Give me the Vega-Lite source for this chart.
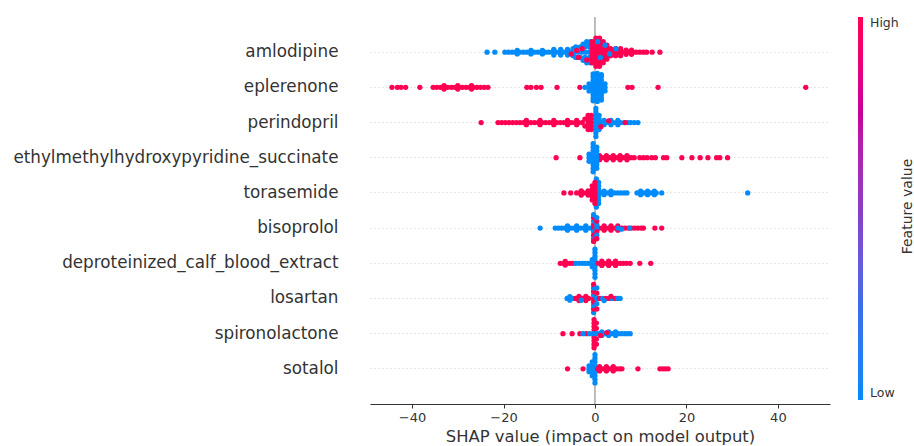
{
"$schema": "https://vega.github.io/schema/vega-lite/v6.json",
"width": 460,
"height": 387,
"autosize": {"type": "none"},
"padding": {"left": 370, "top": 17, "right": 84, "bottom": 42},
"background": "white",
"config": {"view": {"stroke": null}, "font": "DejaVu Sans"},
"datasets": {
"features": [{"k":1,"feature":"amlodipine"},{"k":2,"feature":"eplerenone"},{"k":3,"feature":"perindopril"},{"k":4,"feature":"ethylmethylhydroxypyridine_succinate"},{"k":5,"feature":"torasemide"},{"k":6,"feature":"bisoprolol"},{"k":7,"feature":"deproteinized_calf_blood_extract"},{"k":8,"feature":"losartan"},{"k":9,"feature":"spironolactone"},{"k":10,"feature":"sotalol"}],
"zero": [{"v":0}],
"shap": [
{"k":1,"v":-23.6,"c":0,"o":0},{"k":1,"v":-21.9,"c":0,"o":0},{"k":1,"v":-19.7,"c":0,"o":0},{"k":1,"v":-18.9,"c":0,"o":0},{"k":1,"v":-18.1,"c":0,"o":0},{"k":1,"v":-17.3,"c":0,"o":0},{"k":1,"v":-16.5,"c":0,"o":0},{"k":1,"v":-15.7,"c":0,"o":0},{"k":1,"v":-14.9,"c":0,"o":0},{"k":1,"v":-14.1,"c":0,"o":0},{"k":1,"v":-13.3,"c":0,"o":0},{"k":1,"v":-12.5,"c":0,"o":0},{"k":1,"v":-11.7,"c":0,"o":0},{"k":1,"v":-10.9,"c":0,"o":0},{"k":1,"v":-10.1,"c":0,"o":0},{"k":1,"v":-9.3,"c":0,"o":0},{"k":1,"v":-8.5,"c":0,"o":0},{"k":1,"v":-7.7,"c":0,"o":0},{"k":1,"v":-6.9,"c":0,"o":0},{"k":1,"v":-6.1,"c":0,"o":0},{"k":1,"v":-5.3,"c":0,"o":0},{"k":1,"v":-4.5,"c":0,"o":0},{"k":1,"v":-3.7,"c":0,"o":0},{"k":1,"v":-2.9,"c":0,"o":0},{"k":1,"v":-2.1,"c":0,"o":0},{"k":1,"v":-1.3,"c":0,"o":0},{"k":1,"v":-0.5,"c":0,"o":0},
{"k":1,"v":-17,"c":0,"o":0.05},{"k":1,"v":-17,"c":0,"o":-0.05},{"k":1,"v":-14,"c":0,"o":0.05},{"k":1,"v":-14,"c":0,"o":-0.05},{"k":1,"v":-11.5,"c":0,"o":0.05},{"k":1,"v":-11.5,"c":0,"o":-0.05},
{"k":1,"v":-9,"c":0,"o":0.08},{"k":1,"v":-9,"c":0,"o":-0.08},{"k":1,"v":-7.5,"c":0,"o":0.08},{"k":1,"v":-7.5,"c":0,"o":-0.08},{"k":1,"v":-6,"c":0,"o":0.08},{"k":1,"v":-6,"c":0,"o":-0.08},{"k":1,"v":-4.8,"c":0,"o":0.1},{"k":1,"v":-4.8,"c":0,"o":-0.1},
{"k":1,"v":-4.2,"c":0,"o":0.15},{"k":1,"v":-4.2,"c":0,"o":-0.15},{"k":1,"v":-3.2,"c":0,"o":0.15},{"k":1,"v":-3.2,"c":0,"o":-0.15},{"k":1,"v":-2.2,"c":0,"o":0.15},{"k":1,"v":-2.2,"c":0,"o":-0.15},{"k":1,"v":-1.2,"c":0,"o":0.15},{"k":1,"v":-1.2,"c":0,"o":-0.15},
{"k":1,"v":-2.6,"c":0,"o":0.23},{"k":1,"v":-2.6,"c":0,"o":-0.23},{"k":1,"v":-1.6,"c":0,"o":0.23},{"k":1,"v":-1.6,"c":0,"o":-0.23},{"k":1,"v":-0.8,"c":0,"o":0.23},{"k":1,"v":-0.8,"c":0,"o":-0.23},
{"k":1,"v":-1.8,"c":0,"o":0.3},{"k":1,"v":-1.8,"c":0,"o":-0.3},{"k":1,"v":-1,"c":0,"o":0.3},{"k":1,"v":-1,"c":0,"o":-0.3},
{"k":1,"v":-5.2,"c":1,"o":0.05},{"k":1,"v":-2.8,"c":1,"o":-0.1},{"k":1,"v":-3.6,"c":1,"o":0.15},{"k":1,"v":-1.8,"c":1,"o":0.22},{"k":1,"v":-4,"c":1,"o":-0.05},
{"k":1,"v":-0.6,"c":1,"o":0},{"k":1,"v":-0.6,"c":1,"o":0.1},{"k":1,"v":-0.6,"c":1,"o":-0.1},{"k":1,"v":-0.6,"c":1,"o":0.2},{"k":1,"v":-0.6,"c":1,"o":-0.2},{"k":1,"v":-0.6,"c":1,"o":0.3},{"k":1,"v":-0.6,"c":1,"o":-0.3},
{"k":1,"v":0.2,"c":1,"o":0},{"k":1,"v":0.2,"c":1,"o":0.1},{"k":1,"v":0.2,"c":1,"o":-0.1},{"k":1,"v":0.2,"c":1,"o":0.2},{"k":1,"v":0.2,"c":1,"o":-0.2},{"k":1,"v":0.2,"c":1,"o":0.3},{"k":1,"v":0.2,"c":1,"o":-0.3},{"k":1,"v":0.2,"c":1,"o":0.4},{"k":1,"v":0.2,"c":1,"o":-0.4},
{"k":1,"v":1,"c":1,"o":0},{"k":1,"v":1,"c":1,"o":0.1},{"k":1,"v":1,"c":1,"o":-0.1},{"k":1,"v":1,"c":1,"o":0.2},{"k":1,"v":1,"c":1,"o":-0.2},{"k":1,"v":1,"c":1,"o":0.3},{"k":1,"v":1,"c":1,"o":-0.3},{"k":1,"v":1,"c":1,"o":0.4},{"k":1,"v":1,"c":1,"o":-0.4},
{"k":1,"v":1.8,"c":1,"o":0},{"k":1,"v":1.8,"c":1,"o":0.1},{"k":1,"v":1.8,"c":1,"o":-0.1},{"k":1,"v":1.8,"c":1,"o":0.2},{"k":1,"v":1.8,"c":1,"o":-0.2},{"k":1,"v":1.8,"c":1,"o":0.3},{"k":1,"v":1.8,"c":1,"o":-0.3},
{"k":1,"v":2.6,"c":1,"o":0},{"k":1,"v":2.6,"c":1,"o":0.1},{"k":1,"v":2.6,"c":1,"o":-0.1},{"k":1,"v":2.6,"c":1,"o":0.2},{"k":1,"v":2.6,"c":1,"o":-0.2},
{"k":1,"v":3.4,"c":1,"o":0},{"k":1,"v":4.2,"c":1,"o":0},{"k":1,"v":5,"c":1,"o":0},{"k":1,"v":5.8,"c":1,"o":0},{"k":1,"v":6.6,"c":1,"o":0},{"k":1,"v":7.4,"c":1,"o":0},{"k":1,"v":8.2,"c":1,"o":0},{"k":1,"v":9,"c":1,"o":0},{"k":1,"v":9.8,"c":1,"o":0},{"k":1,"v":10.6,"c":1,"o":0},{"k":1,"v":11.3,"c":1,"o":0},{"k":1,"v":12.5,"c":1,"o":0},{"k":1,"v":14.2,"c":1,"o":0},
{"k":1,"v":3.4,"c":1,"o":0.1},{"k":1,"v":3.4,"c":1,"o":-0.1},{"k":1,"v":4.5,"c":1,"o":0.1},{"k":1,"v":4.5,"c":1,"o":-0.1},{"k":1,"v":5.6,"c":1,"o":0.1},{"k":1,"v":5.6,"c":1,"o":-0.1},{"k":1,"v":6.8,"c":1,"o":0.06},{"k":1,"v":6.8,"c":1,"o":-0.06},{"k":1,"v":8,"c":1,"o":0.06},{"k":1,"v":8,"c":1,"o":-0.06},
{"k":1,"v":1.2,"c":0,"o":0.15},{"k":1,"v":2.2,"c":0,"o":-0.2},{"k":1,"v":3.2,"c":0,"o":0.05},{"k":1,"v":4.6,"c":0,"o":-0.1},{"k":1,"v":0.6,"c":0,"o":-0.3},
{"k":2,"v":-44.4,"c":1,"o":0},{"k":2,"v":-43.2,"c":1,"o":0},{"k":2,"v":-42.4,"c":1,"o":0},{"k":2,"v":-41.4,"c":1,"o":0},{"k":2,"v":-38.3,"c":1,"o":0},{"k":2,"v":-35.4,"c":1,"o":0},{"k":2,"v":-34.6,"c":1,"o":0},{"k":2,"v":-33.8,"c":1,"o":0},{"k":2,"v":-33,"c":1,"o":0},{"k":2,"v":-32.2,"c":1,"o":0},{"k":2,"v":-31.4,"c":1,"o":0},{"k":2,"v":-30.6,"c":1,"o":0},{"k":2,"v":-29.8,"c":1,"o":0},{"k":2,"v":-29,"c":1,"o":0},{"k":2,"v":-28.2,"c":1,"o":0},{"k":2,"v":-27.4,"c":1,"o":0},{"k":2,"v":-26.6,"c":1,"o":0},{"k":2,"v":-25.8,"c":1,"o":0},{"k":2,"v":-25,"c":1,"o":0},{"k":2,"v":-24.2,"c":1,"o":0},{"k":2,"v":-23.4,"c":1,"o":0},{"k":2,"v":-14.9,"c":1,"o":0},{"k":2,"v":-14,"c":1,"o":0},{"k":2,"v":-12.8,"c":1,"o":0},{"k":2,"v":-11.8,"c":1,"o":0},{"k":2,"v":-8.3,"c":1,"o":0},{"k":2,"v":-3.3,"c":1,"o":0},{"k":2,"v":7.2,"c":1,"o":0},{"k":2,"v":8.1,"c":1,"o":0},{"k":2,"v":13.8,"c":1,"o":0},{"k":2,"v":46.1,"c":1,"o":0},
{"k":2,"v":-33,"c":1,"o":0.05},{"k":2,"v":-33,"c":1,"o":-0.05},{"k":2,"v":-30,"c":1,"o":0.05},{"k":2,"v":-30,"c":1,"o":-0.05},{"k":2,"v":-27,"c":1,"o":0.05},{"k":2,"v":-27,"c":1,"o":-0.05},
{"k":2,"v":-2.2,"c":0,"o":0},{"k":2,"v":-1.3,"c":0,"o":0},{"k":2,"v":-1.3,"c":0,"o":0.1},{"k":2,"v":-1.3,"c":0,"o":-0.1},
{"k":2,"v":-0.4,"c":0,"o":0},{"k":2,"v":-0.4,"c":0,"o":0.1},{"k":2,"v":-0.4,"c":0,"o":-0.1},{"k":2,"v":-0.4,"c":0,"o":0.2},{"k":2,"v":-0.4,"c":0,"o":-0.2},{"k":2,"v":-0.4,"c":0,"o":0.3},{"k":2,"v":-0.4,"c":0,"o":-0.3},{"k":2,"v":-0.4,"c":0,"o":0.38},{"k":2,"v":-0.4,"c":0,"o":-0.38},
{"k":2,"v":0.5,"c":0,"o":0},{"k":2,"v":0.5,"c":0,"o":0.1},{"k":2,"v":0.5,"c":0,"o":-0.1},{"k":2,"v":0.5,"c":0,"o":0.2},{"k":2,"v":0.5,"c":0,"o":-0.2},{"k":2,"v":0.5,"c":0,"o":0.3},{"k":2,"v":0.5,"c":0,"o":-0.3},{"k":2,"v":0.5,"c":0,"o":0.4},{"k":2,"v":0.5,"c":0,"o":-0.4},
{"k":2,"v":1.4,"c":0,"o":0},{"k":2,"v":1.4,"c":0,"o":0.1},{"k":2,"v":1.4,"c":0,"o":-0.1},{"k":2,"v":1.4,"c":0,"o":0.2},{"k":2,"v":1.4,"c":0,"o":-0.2},{"k":2,"v":1.4,"c":0,"o":0.3},{"k":2,"v":1.4,"c":0,"o":-0.3},{"k":2,"v":1.4,"c":0,"o":0.36},{"k":2,"v":1.4,"c":0,"o":-0.36},
{"k":2,"v":2.2,"c":0,"o":0},{"k":2,"v":2.2,"c":0,"o":0.1},{"k":2,"v":2.2,"c":0,"o":-0.1},
{"k":3,"v":-24.9,"c":1,"o":0},{"k":3,"v":-21.2,"c":1,"o":0},{"k":3,"v":-20.4,"c":1,"o":0},{"k":3,"v":-19.6,"c":1,"o":0},{"k":3,"v":-18.8,"c":1,"o":0},{"k":3,"v":-18,"c":1,"o":0},{"k":3,"v":-17.2,"c":1,"o":0},{"k":3,"v":-16.4,"c":1,"o":0},{"k":3,"v":-15.6,"c":1,"o":0},{"k":3,"v":-14.8,"c":1,"o":0},{"k":3,"v":-14,"c":1,"o":0},{"k":3,"v":-13.2,"c":1,"o":0},{"k":3,"v":-12.4,"c":1,"o":0},{"k":3,"v":-11.6,"c":1,"o":0},{"k":3,"v":-10.8,"c":1,"o":0},{"k":3,"v":-10,"c":1,"o":0},{"k":3,"v":-9.2,"c":1,"o":0},{"k":3,"v":-8.4,"c":1,"o":0},{"k":3,"v":-7.6,"c":1,"o":0},{"k":3,"v":-6.8,"c":1,"o":0},{"k":3,"v":-6,"c":1,"o":0},{"k":3,"v":-5.2,"c":1,"o":0},{"k":3,"v":-4.4,"c":1,"o":0},{"k":3,"v":-3.6,"c":1,"o":0},{"k":3,"v":-2.8,"c":1,"o":0},
{"k":3,"v":-15,"c":1,"o":0.06},{"k":3,"v":-15,"c":1,"o":-0.06},{"k":3,"v":-12,"c":1,"o":0.06},{"k":3,"v":-12,"c":1,"o":-0.06},{"k":3,"v":-9,"c":1,"o":0.06},{"k":3,"v":-9,"c":1,"o":-0.06},{"k":3,"v":-6,"c":1,"o":0.06},{"k":3,"v":-6,"c":1,"o":-0.06},{"k":3,"v":-4,"c":1,"o":0.06},{"k":3,"v":-4,"c":1,"o":-0.06},
{"k":3,"v":0.2,"c":0,"o":0},{"k":3,"v":0.2,"c":0,"o":0.1},{"k":3,"v":0.2,"c":0,"o":-0.1},{"k":3,"v":0.2,"c":0,"o":0.2},{"k":3,"v":0.2,"c":0,"o":-0.2},{"k":3,"v":0.2,"c":0,"o":0.3},{"k":3,"v":0.2,"c":0,"o":-0.3},{"k":3,"v":0.2,"c":0,"o":0.4},{"k":3,"v":0.2,"c":0,"o":-0.4},
{"k":3,"v":0.9,"c":0,"o":0},{"k":3,"v":0.9,"c":0,"o":0.1},{"k":3,"v":0.9,"c":0,"o":-0.1},{"k":3,"v":0.9,"c":0,"o":0.2},{"k":3,"v":0.9,"c":0,"o":-0.2},
{"k":3,"v":1.6,"c":0,"o":0},{"k":3,"v":2.4,"c":0,"o":0},{"k":3,"v":3.2,"c":0,"o":0},{"k":3,"v":4,"c":0,"o":0},{"k":3,"v":4.8,"c":0,"o":0},{"k":3,"v":5.6,"c":0,"o":0},{"k":3,"v":6.4,"c":0,"o":0},{"k":3,"v":7.2,"c":0,"o":0},{"k":3,"v":7.8,"c":0,"o":0},{"k":3,"v":8.6,"c":0,"o":0},{"k":3,"v":9.4,"c":0,"o":0},
{"k":3,"v":2,"c":0,"o":0.06},{"k":3,"v":2,"c":0,"o":-0.06},{"k":3,"v":3.5,"c":0,"o":0.06},{"k":3,"v":3.5,"c":0,"o":-0.06},{"k":3,"v":5,"c":0,"o":0.06},{"k":3,"v":5,"c":0,"o":-0.06},
{"k":3,"v":-2.2,"c":1,"o":0.1},{"k":3,"v":-2.2,"c":1,"o":-0.1},{"k":3,"v":-1.5,"c":1,"o":0},{"k":3,"v":-1.5,"c":1,"o":0.1},{"k":3,"v":-1.5,"c":1,"o":-0.1},{"k":3,"v":-1.5,"c":1,"o":0.2},{"k":3,"v":-1.5,"c":1,"o":-0.2},{"k":3,"v":-0.8,"c":1,"o":0},{"k":3,"v":-0.8,"c":1,"o":0.1},{"k":3,"v":-0.8,"c":1,"o":-0.1},{"k":3,"v":-0.8,"c":1,"o":0.2},{"k":3,"v":-0.8,"c":1,"o":-0.2},
{"k":3,"v":6.6,"c":1,"o":0},{"k":3,"v":1.3,"c":1,"o":0.12},{"k":3,"v":3,"c":1,"o":-0.05},
{"k":4,"v":-8.5,"c":1,"o":0},{"k":4,"v":-3.3,"c":1,"o":0},{"k":4,"v":0.8,"c":1,"o":0},{"k":4,"v":1.4,"c":1,"o":0},{"k":4,"v":2,"c":1,"o":0},{"k":4,"v":2.6,"c":1,"o":0},{"k":4,"v":3.2,"c":1,"o":0},{"k":4,"v":3.8,"c":1,"o":0},{"k":4,"v":4.4,"c":1,"o":0},{"k":4,"v":5,"c":1,"o":0},{"k":4,"v":5.6,"c":1,"o":0},{"k":4,"v":6.2,"c":1,"o":0},{"k":4,"v":6.8,"c":1,"o":0},{"k":4,"v":7.4,"c":1,"o":0},{"k":4,"v":8,"c":1,"o":0},{"k":4,"v":8.6,"c":1,"o":0},{"k":4,"v":9.8,"c":1,"o":0},{"k":4,"v":10.6,"c":1,"o":0},{"k":4,"v":11.4,"c":1,"o":0},{"k":4,"v":12.4,"c":1,"o":0},{"k":4,"v":13.2,"c":1,"o":0},{"k":4,"v":15,"c":1,"o":0},{"k":4,"v":15.7,"c":1,"o":0},{"k":4,"v":19,"c":1,"o":0},{"k":4,"v":21.2,"c":1,"o":0},{"k":4,"v":23,"c":1,"o":0},{"k":4,"v":24.7,"c":1,"o":0},{"k":4,"v":26.6,"c":1,"o":0},{"k":4,"v":27.3,"c":1,"o":0},{"k":4,"v":29,"c":1,"o":0},
{"k":4,"v":1,"c":1,"o":0.06},{"k":4,"v":1,"c":1,"o":-0.06},{"k":4,"v":2.5,"c":1,"o":0.06},{"k":4,"v":2.5,"c":1,"o":-0.06},{"k":4,"v":4,"c":1,"o":0.06},{"k":4,"v":4,"c":1,"o":-0.06},{"k":4,"v":5.5,"c":1,"o":0.06},{"k":4,"v":5.5,"c":1,"o":-0.06},{"k":4,"v":7,"c":1,"o":0.06},{"k":4,"v":7,"c":1,"o":-0.06},
{"k":4,"v":-1.3,"c":0,"o":0},{"k":4,"v":-1.3,"c":0,"o":0.1},{"k":4,"v":-1.3,"c":0,"o":-0.1},
{"k":4,"v":-0.4,"c":0,"o":0},{"k":4,"v":-0.4,"c":0,"o":0.1},{"k":4,"v":-0.4,"c":0,"o":-0.1},{"k":4,"v":-0.4,"c":0,"o":0.2},{"k":4,"v":-0.4,"c":0,"o":-0.2},{"k":4,"v":-0.4,"c":0,"o":0.3},{"k":4,"v":-0.4,"c":0,"o":-0.3},{"k":4,"v":-0.4,"c":0,"o":0.4},{"k":4,"v":-0.4,"c":0,"o":-0.4},
{"k":4,"v":0.4,"c":0,"o":0},{"k":4,"v":0.4,"c":0,"o":0.1},{"k":4,"v":0.4,"c":0,"o":-0.1},{"k":4,"v":0.4,"c":0,"o":0.2},{"k":4,"v":0.4,"c":0,"o":-0.2},{"k":4,"v":0.4,"c":0,"o":0.3},{"k":4,"v":0.4,"c":0,"o":-0.3},
{"k":5,"v":-6.8,"c":1,"o":0},{"k":5,"v":-5.3,"c":1,"o":0},{"k":5,"v":-4,"c":1,"o":0},{"k":5,"v":-3.3,"c":1,"o":0},{"k":5,"v":-2.6,"c":1,"o":0},{"k":5,"v":-1.9,"c":1,"o":0},{"k":5,"v":-1.2,"c":1,"o":0},{"k":5,"v":-0.5,"c":1,"o":0},
{"k":5,"v":-3,"c":1,"o":0.06},{"k":5,"v":-3,"c":1,"o":-0.06},{"k":5,"v":-1.5,"c":1,"o":0.06},{"k":5,"v":-1.5,"c":1,"o":-0.06},
{"k":5,"v":0.8,"c":0,"o":0.1},{"k":5,"v":0.8,"c":0,"o":-0.1},{"k":5,"v":0.8,"c":0,"o":0.2},{"k":5,"v":0.8,"c":0,"o":-0.2},{"k":5,"v":0.8,"c":0,"o":0.3},{"k":5,"v":0.8,"c":0,"o":-0.3},{"k":5,"v":0.3,"c":0,"o":0.4},{"k":5,"v":0.3,"c":0,"o":-0.4},{"k":5,"v":0.8,"c":0,"o":0},
{"k":5,"v":0,"c":1,"o":0.1},{"k":5,"v":0,"c":1,"o":-0.1},{"k":5,"v":0,"c":1,"o":0.2},{"k":5,"v":0,"c":1,"o":-0.2},{"k":5,"v":0,"c":1,"o":0.3},{"k":5,"v":0,"c":1,"o":-0.3},{"k":5,"v":-0.6,"c":1,"o":0.1},{"k":5,"v":-0.6,"c":1,"o":-0.1},{"k":5,"v":-0.6,"c":1,"o":0.2},{"k":5,"v":-0.6,"c":1,"o":-0.2},{"k":5,"v":0,"c":1,"o":0},
{"k":5,"v":1.5,"c":0,"o":0},{"k":5,"v":2.2,"c":0,"o":0},{"k":5,"v":2.9,"c":0,"o":0},{"k":5,"v":3.6,"c":0,"o":0},{"k":5,"v":4.3,"c":0,"o":0},{"k":5,"v":5,"c":0,"o":0},{"k":5,"v":5.7,"c":0,"o":0},{"k":5,"v":6.4,"c":0,"o":0},{"k":5,"v":7,"c":0,"o":0},
{"k":5,"v":2,"c":0,"o":0.05},{"k":5,"v":2,"c":0,"o":-0.05},{"k":5,"v":3.5,"c":0,"o":0.05},{"k":5,"v":3.5,"c":0,"o":-0.05},
{"k":5,"v":9.2,"c":0,"o":0},{"k":5,"v":9.8,"c":0,"o":0},{"k":5,"v":10.4,"c":0,"o":0},{"k":5,"v":11,"c":0,"o":0},{"k":5,"v":11.6,"c":0,"o":0},{"k":5,"v":12.2,"c":0,"o":0},{"k":5,"v":12.8,"c":0,"o":0},{"k":5,"v":13.4,"c":0,"o":0},{"k":5,"v":14.6,"c":0,"o":0},
{"k":5,"v":10,"c":0,"o":0.05},{"k":5,"v":10,"c":0,"o":-0.05},{"k":5,"v":11.5,"c":0,"o":0.05},{"k":5,"v":11.5,"c":0,"o":-0.05},{"k":5,"v":13,"c":0,"o":0.05},{"k":5,"v":13,"c":0,"o":-0.05},{"k":5,"v":33.4,"c":0,"o":0},
{"k":6,"v":-12,"c":0,"o":0},{"k":6,"v":-8.7,"c":0,"o":0},{"k":6,"v":-8,"c":0,"o":0},{"k":6,"v":-7.3,"c":0,"o":0},{"k":6,"v":-6.6,"c":0,"o":0},{"k":6,"v":-5.9,"c":0,"o":0},{"k":6,"v":-5.2,"c":0,"o":0},{"k":6,"v":-4.5,"c":0,"o":0},{"k":6,"v":-3.8,"c":0,"o":0},{"k":6,"v":-3.1,"c":0,"o":0},{"k":6,"v":-2.4,"c":0,"o":0},{"k":6,"v":-1.7,"c":0,"o":0},{"k":6,"v":-1,"c":0,"o":0},
{"k":6,"v":-6,"c":0,"o":0.06},{"k":6,"v":-6,"c":0,"o":-0.06},{"k":6,"v":-4,"c":0,"o":0.06},{"k":6,"v":-4,"c":0,"o":-0.06},{"k":6,"v":-2,"c":0,"o":0.06},{"k":6,"v":-2,"c":0,"o":-0.06},
{"k":6,"v":1,"c":1,"o":0},{"k":6,"v":1.7,"c":1,"o":0},{"k":6,"v":2.4,"c":1,"o":0},{"k":6,"v":3.1,"c":1,"o":0},{"k":6,"v":3.8,"c":1,"o":0},{"k":6,"v":4.5,"c":1,"o":0},{"k":6,"v":5.2,"c":1,"o":0},{"k":6,"v":5.9,"c":1,"o":0},{"k":6,"v":6.6,"c":1,"o":0},{"k":6,"v":7.3,"c":1,"o":0},{"k":6,"v":8,"c":1,"o":0},{"k":6,"v":8.7,"c":1,"o":0},{"k":6,"v":9.4,"c":1,"o":0},{"k":6,"v":10.1,"c":1,"o":0},{"k":6,"v":10.6,"c":1,"o":0},{"k":6,"v":13.1,"c":1,"o":0},{"k":6,"v":14.6,"c":1,"o":0},
{"k":6,"v":2,"c":1,"o":0.06},{"k":6,"v":2,"c":1,"o":-0.06},{"k":6,"v":3.5,"c":1,"o":0.06},{"k":6,"v":3.5,"c":1,"o":-0.06},{"k":6,"v":5,"c":1,"o":0.06},{"k":6,"v":5,"c":1,"o":-0.06},
{"k":6,"v":5,"c":0,"o":0},{"k":6,"v":5.8,"c":0,"o":0.03},{"k":6,"v":7.6,"c":0,"o":0},
{"k":6,"v":-0.3,"c":1,"o":0},{"k":6,"v":-0.3,"c":0,"o":0.1},{"k":6,"v":-0.3,"c":1,"o":-0.1},{"k":6,"v":-0.3,"c":1,"o":0.2},{"k":6,"v":-0.3,"c":0,"o":-0.2},{"k":6,"v":-0.3,"c":0.5,"o":0.3},{"k":6,"v":-0.3,"c":1,"o":-0.3},{"k":6,"v":-0.3,"c":1,"o":0.38},{"k":6,"v":-0.3,"c":0,"o":-0.38},
{"k":6,"v":0.4,"c":0,"o":0},{"k":6,"v":0.4,"c":1,"o":0.1},{"k":6,"v":0.4,"c":0,"o":-0.1},{"k":6,"v":0.4,"c":0,"o":0.2},{"k":6,"v":0.4,"c":1,"o":-0.2},{"k":6,"v":0.4,"c":1,"o":0.3},{"k":6,"v":0.4,"c":0,"o":-0.3},
{"k":7,"v":-7.6,"c":1,"o":0},{"k":7,"v":-6.9,"c":1,"o":0},{"k":7,"v":-6.2,"c":1,"o":0},{"k":7,"v":-5.5,"c":1,"o":0},{"k":7,"v":-4.8,"c":1,"o":0},{"k":7,"v":-6.5,"c":1,"o":0.05},{"k":7,"v":-6.5,"c":1,"o":-0.05},
{"k":7,"v":-4.2,"c":0,"o":0},{"k":7,"v":-3.5,"c":0,"o":0},{"k":7,"v":-2.8,"c":0,"o":0},{"k":7,"v":-2.1,"c":0,"o":0},{"k":7,"v":-1.4,"c":0,"o":0},
{"k":7,"v":-0.6,"c":0,"o":0},{"k":7,"v":-0.6,"c":0,"o":0.1},{"k":7,"v":-0.6,"c":0,"o":-0.1},
{"k":7,"v":0,"c":0,"o":0},{"k":7,"v":0,"c":0,"o":0.1},{"k":7,"v":0,"c":0,"o":-0.1},{"k":7,"v":0,"c":0,"o":0.2},{"k":7,"v":0,"c":0,"o":-0.2},{"k":7,"v":0,"c":0,"o":0.3},{"k":7,"v":0,"c":0,"o":-0.3},{"k":7,"v":0,"c":0,"o":0.4},{"k":7,"v":0,"c":0,"o":-0.4},
{"k":7,"v":0.7,"c":1,"o":0},{"k":7,"v":1.3,"c":1,"o":0},{"k":7,"v":2,"c":1,"o":0},{"k":7,"v":2.7,"c":1,"o":0},{"k":7,"v":3.4,"c":1,"o":0},{"k":7,"v":4.1,"c":1,"o":0},{"k":7,"v":4.8,"c":1,"o":0},{"k":7,"v":5.5,"c":1,"o":0},{"k":7,"v":6.2,"c":1,"o":0},{"k":7,"v":6.9,"c":1,"o":0},{"k":7,"v":7.7,"c":1,"o":0},{"k":7,"v":9.8,"c":1,"o":0},{"k":7,"v":12.2,"c":1,"o":0},
{"k":7,"v":1.5,"c":1,"o":0.06},{"k":7,"v":1.5,"c":1,"o":-0.06},{"k":7,"v":3,"c":1,"o":0.06},{"k":7,"v":3,"c":1,"o":-0.06},{"k":7,"v":4.5,"c":1,"o":0.06},{"k":7,"v":4.5,"c":1,"o":-0.06},
{"k":8,"v":-6.1,"c":0,"o":0},{"k":8,"v":-5.4,"c":0,"o":0},{"k":8,"v":-4.8,"c":0,"o":0},{"k":8,"v":-5.5,"c":0,"o":0.05},{"k":8,"v":-5.5,"c":0,"o":-0.05},
{"k":8,"v":-4.2,"c":1,"o":0},{"k":8,"v":-3.5,"c":1,"o":0},{"k":8,"v":-2.8,"c":1,"o":0},{"k":8,"v":-2.1,"c":1,"o":0},{"k":8,"v":-1.4,"c":1,"o":0},{"k":8,"v":-3.5,"c":1,"o":0.06},{"k":8,"v":-3.5,"c":1,"o":-0.06},{"k":8,"v":-2,"c":1,"o":0.06},{"k":8,"v":-2,"c":1,"o":-0.06},{"k":8,"v":-3,"c":0,"o":0.05},
{"k":8,"v":-0.3,"c":0,"o":0.4},{"k":8,"v":-0.3,"c":1,"o":0.3},{"k":8,"v":-0.3,"c":0,"o":0.2},{"k":8,"v":-0.3,"c":1,"o":0.1},{"k":8,"v":-0.3,"c":1,"o":0},{"k":8,"v":-0.3,"c":0,"o":-0.1},{"k":8,"v":-0.3,"c":1,"o":-0.2},{"k":8,"v":-0.3,"c":0,"o":-0.3},{"k":8,"v":-0.3,"c":1,"o":-0.4},
{"k":8,"v":0.4,"c":1,"o":0.3},{"k":8,"v":0.4,"c":0,"o":0.15},{"k":8,"v":0.4,"c":0,"o":0},{"k":8,"v":0.4,"c":1,"o":-0.15},{"k":8,"v":0.4,"c":0,"o":-0.3},
{"k":8,"v":1,"c":1,"o":0},{"k":8,"v":1.7,"c":0,"o":0},{"k":8,"v":2.4,"c":1,"o":0},{"k":8,"v":3.1,"c":1,"o":0},{"k":8,"v":3.8,"c":0,"o":0},{"k":8,"v":4.5,"c":1,"o":0},{"k":8,"v":5,"c":0,"o":0},{"k":8,"v":5.5,"c":0,"o":0},{"k":8,"v":2,"c":0,"o":0.06},{"k":8,"v":3.5,"c":1,"o":-0.06},
{"k":9,"v":-7,"c":1,"o":0},{"k":9,"v":-5,"c":1,"o":0},{"k":9,"v":-3.3,"c":1,"o":0},{"k":9,"v":-1.9,"c":1,"o":0},{"k":9,"v":-2.6,"c":0,"o":0},{"k":9,"v":-1.2,"c":0,"o":0},
{"k":9,"v":-0.2,"c":1,"o":0.1},{"k":9,"v":-0.2,"c":1,"o":-0.1},{"k":9,"v":-0.2,"c":1,"o":0.2},{"k":9,"v":-0.2,"c":1,"o":-0.2},{"k":9,"v":-0.2,"c":1,"o":0.3},{"k":9,"v":-0.2,"c":1,"o":-0.3},{"k":9,"v":-0.2,"c":1,"o":0.4},{"k":9,"v":-0.2,"c":1,"o":-0.4},{"k":9,"v":0.3,"c":1,"o":0.15},{"k":9,"v":0.3,"c":1,"o":-0.15},{"k":9,"v":0.3,"c":1,"o":0.3},{"k":9,"v":0.3,"c":1,"o":-0.3},
{"k":9,"v":-0.4,"c":0,"o":0},{"k":9,"v":0.3,"c":0,"o":0},
{"k":9,"v":0.9,"c":0,"o":0},{"k":9,"v":1.6,"c":0,"o":0},{"k":9,"v":2.3,"c":0,"o":0},{"k":9,"v":3,"c":0,"o":0},{"k":9,"v":3.7,"c":0,"o":0},{"k":9,"v":4.4,"c":0,"o":0},{"k":9,"v":5.1,"c":0,"o":0},{"k":9,"v":5.8,"c":0,"o":0},{"k":9,"v":6.5,"c":0,"o":0},{"k":9,"v":7.1,"c":0,"o":0},{"k":9,"v":7.7,"c":0,"o":0},
{"k":9,"v":1.5,"c":0,"o":0.05},{"k":9,"v":1.5,"c":0,"o":-0.05},{"k":9,"v":3,"c":0,"o":0.05},{"k":9,"v":3,"c":0,"o":-0.05},{"k":9,"v":4.5,"c":0,"o":0.05},{"k":9,"v":4.5,"c":0,"o":-0.05},
{"k":9,"v":1.2,"c":1,"o":0.05},{"k":9,"v":2.6,"c":1,"o":-0.03},
{"k":10,"v":-6,"c":1,"o":0},{"k":10,"v":-2.6,"c":1,"o":0},
{"k":10,"v":-1.3,"c":0,"o":0},{"k":10,"v":-1.3,"c":0,"o":0.08},{"k":10,"v":-1.3,"c":0,"o":-0.08},
{"k":10,"v":-0.6,"c":0,"o":0},{"k":10,"v":-0.6,"c":0,"o":0.1},{"k":10,"v":-0.6,"c":0,"o":-0.1},{"k":10,"v":-0.6,"c":0,"o":0.2},{"k":10,"v":-0.6,"c":0,"o":-0.2},
{"k":10,"v":0,"c":0,"o":0},{"k":10,"v":0,"c":0,"o":0.1},{"k":10,"v":0,"c":0,"o":-0.1},{"k":10,"v":0,"c":0,"o":0.2},{"k":10,"v":0,"c":0,"o":-0.2},{"k":10,"v":0,"c":0,"o":0.3},{"k":10,"v":0,"c":0,"o":-0.3},{"k":10,"v":0,"c":0,"o":0.4},{"k":10,"v":0,"c":0,"o":-0.4},
{"k":10,"v":0.6,"c":1,"o":0},{"k":10,"v":1.2,"c":1,"o":0},{"k":10,"v":1.8,"c":1,"o":0},{"k":10,"v":2.4,"c":1,"o":0},{"k":10,"v":3,"c":1,"o":0},{"k":10,"v":3.6,"c":1,"o":0},{"k":10,"v":4.2,"c":1,"o":0},{"k":10,"v":4.8,"c":1,"o":0},{"k":10,"v":5.4,"c":1,"o":0},{"k":10,"v":5.9,"c":1,"o":0},{"k":10,"v":9.4,"c":1,"o":0},{"k":10,"v":14.2,"c":1,"o":0},{"k":10,"v":14.8,"c":1,"o":0},{"k":10,"v":15.4,"c":1,"o":0},{"k":10,"v":16,"c":1,"o":0},
{"k":10,"v":1,"c":1,"o":0.06},{"k":10,"v":1,"c":1,"o":-0.06},{"k":10,"v":2.5,"c":1,"o":0.06},{"k":10,"v":2.5,"c":1,"o":-0.06},{"k":10,"v":4,"c":1,"o":0.06},{"k":10,"v":4,"c":1,"o":-0.06}
]
},
"resolve": {"scale": {"y": "independent"}, "axis": {"y": "independent"}},
"layer": [
{
"data": {"name": "zero"},
"mark": {"type": "rule", "color": "#999999", "strokeWidth": 1.3},
"encoding": {"x": {"field": "v", "type": "quantitative"}}
},
{
"data": {"name": "shap"},
"transform": [{"lookup": "k", "from": {"data": {"name": "features"}, "key": "k", "fields": ["feature"]}}],
"mark": {"type": "circle", "size": 28, "opacity": 1},
"encoding": {
"x": {"field": "v", "type": "quantitative", "scale": {"domain": [-49.2, 51.4], "nice": false, "zero": false}, "axis": {"title": "SHAP value (impact on model output)", "titleFontSize": 16.4, "titleFontWeight": "normal", "titleColor": "#333333", "titlePadding": 4, "labelFontSize": 13, "labelColor": "#333333", "labelPadding": 3, "values": [-40, -20, 0, 20, 40], "domainColor": "#333333", "tickColor": "#333333", "tickSize": 4, "grid": false}},
"y": {"field": "feature", "type": "nominal", "sort": ["amlodipine","eplerenone","perindopril","ethylmethylhydroxypyridine_succinate","torasemide","bisoprolol","deproteinized_calf_blood_extract","losartan","spironolactone","sotalol"], "scale": {"paddingInner": 0, "paddingOuter": 0.5}, "axis": {"orient": "left", "title": null, "domain": false, "ticks": false, "labelFontSize": 16.8, "labelColor": "#333333", "labelPadding": 32, "labelLimit": 400, "grid": true, "bandPosition": 0.5, "gridDash": [1, 3], "gridColor": "#cccccc", "gridWidth": 1}},
"yOffset": {"field": "o", "type": "quantitative", "scale": {"domain": [-0.5, 0.5]}},
"color": {"field": "c", "type": "quantitative", "scale": {"domain": [0, 0.25, 0.5, 0.75, 1], "range": ["#008bfb", "#3d6cea", "#8a3dc6", "#c5009b", "#ff0052"]}, "legend": {"type": "gradient", "direction": "vertical", "orient": "none", "legendX": 488, "legendY": 0, "padding": 0, "gradientLength": 383, "gradientThickness": 5, "gradientStrokeWidth": 0, "values": [0, 1], "labelExpr": "datum.value >= 1 ? 'High' : 'Low'", "labelFontSize": 12.5, "labelColor": "#333333", "labelBaseline": "middle", "labelOffset": 7, "title": null}}
}
},
{
"data": {"name": "zero"},
"mark": {"type": "tick", "opacity": 0},
"encoding": {
"y": {"field": "v", "type": "quantitative", "axis": {"orient": "right", "title": "Feature value", "labels": false, "ticks": false, "domain": false, "grid": false, "titleAngle": 270, "titleX": 77, "titleY": 189, "titleAlign": "center", "titleBaseline": "middle", "titleFontSize": 14, "titleFontWeight": "normal", "titleColor": "#333333"}}
}
}
]
}
